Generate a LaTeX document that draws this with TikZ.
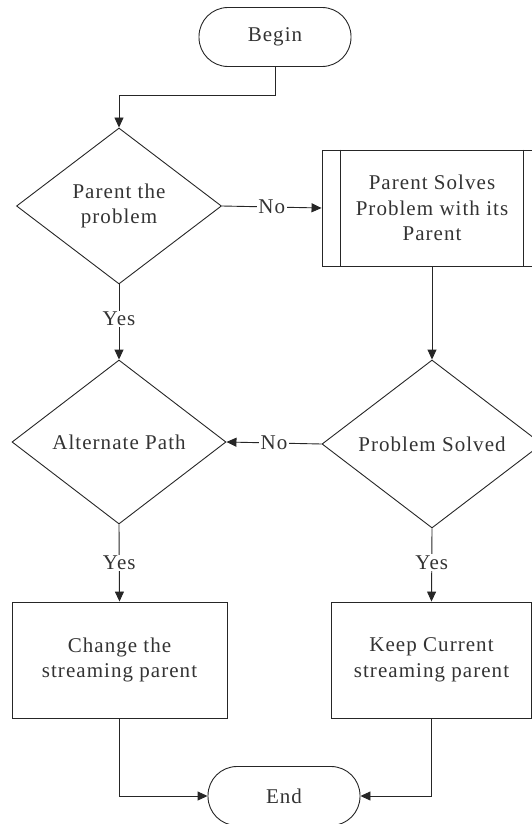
\documentclass[tikz,border=0pt]{standalone}
\usepackage{fontspec}
\setmainfont[LetterSpace=5]{Liberation Serif}
\usetikzlibrary{shapes.geometric,arrows.meta}
\begin{document}
\begin{tikzpicture}[x=1pt,y=-1pt,
  every node/.style={font=\fontsize{21}{25.5}\selectfont, text=black!80},
  line/.style={draw=black!85, line width=0.9pt},
  arr/.style={line, -{Triangle[length=10pt,width=9pt]}},
  term/.style={line, rectangle, rounded corners=29pt, minimum width=152pt, minimum height=59pt, inner sep=0pt},
  dec/.style={line, diamond, aspect=1.3, inner sep=0pt, align=center},
  proc/.style={line, rectangle, inner sep=0pt, align=center},
  lbl/.style={fill=white, inner sep=1.5pt}]
\useasboundingbox (0,0) rectangle (532,824);
\node[term] (begin) at (275,37) {Begin};
\node[dec, minimum width=205pt, minimum height=156pt] (d1) at (119,206) {Parent the\\problem};
\node[proc, minimum width=220pt, minimum height=116pt] (p) at (432,208) {Parent Solves\\Problem with its\\Parent};
\draw[line] ([xshift=19pt]p.north west) -- ([xshift=19pt]p.south west);
\draw[line] ([xshift=-19pt]p.north east) -- ([xshift=-19pt]p.south east);
\node[dec, minimum width=220pt, minimum height=168pt] (d2) at (432,444) {Problem Solved};
\node[dec, minimum width=214pt, minimum height=164pt] (d3) at (119,442) {Alternate Path};
\node[proc, minimum width=215pt, minimum height=116pt] (b1) at (119.5,660) {Change the\\streaming parent};
\node[proc, minimum width=200pt, minimum height=116pt] (b2) at (431.5,660) {Keep Current\\streaming parent};
\node[term] (end) at (284,796) {End};
\coordinate (k1) at (0,95);
\draw[arr] (begin.south) -- (begin.south |- k1) -| (d1.north);
\draw[arr] (d1.east) -- node[lbl]{No} (p.west);
\draw[arr] (p.south) -- (d2.north);
\draw[arr] (d1.south) -- node[lbl, pos=0.46]{Yes} (d3.north);
\draw[arr] (d2.west) -- node[lbl]{No} (d3.east);
\draw[arr] (d3.south) -- node[lbl]{Yes} (b1.north);
\draw[arr] (d2.south) -- node[lbl, pos=0.47]{Yes} (b2.north);
\draw[arr] (b1.south) |- (end.west);
\draw[arr] (b2.south) |- (end.east);
\end{tikzpicture}
\end{document}
